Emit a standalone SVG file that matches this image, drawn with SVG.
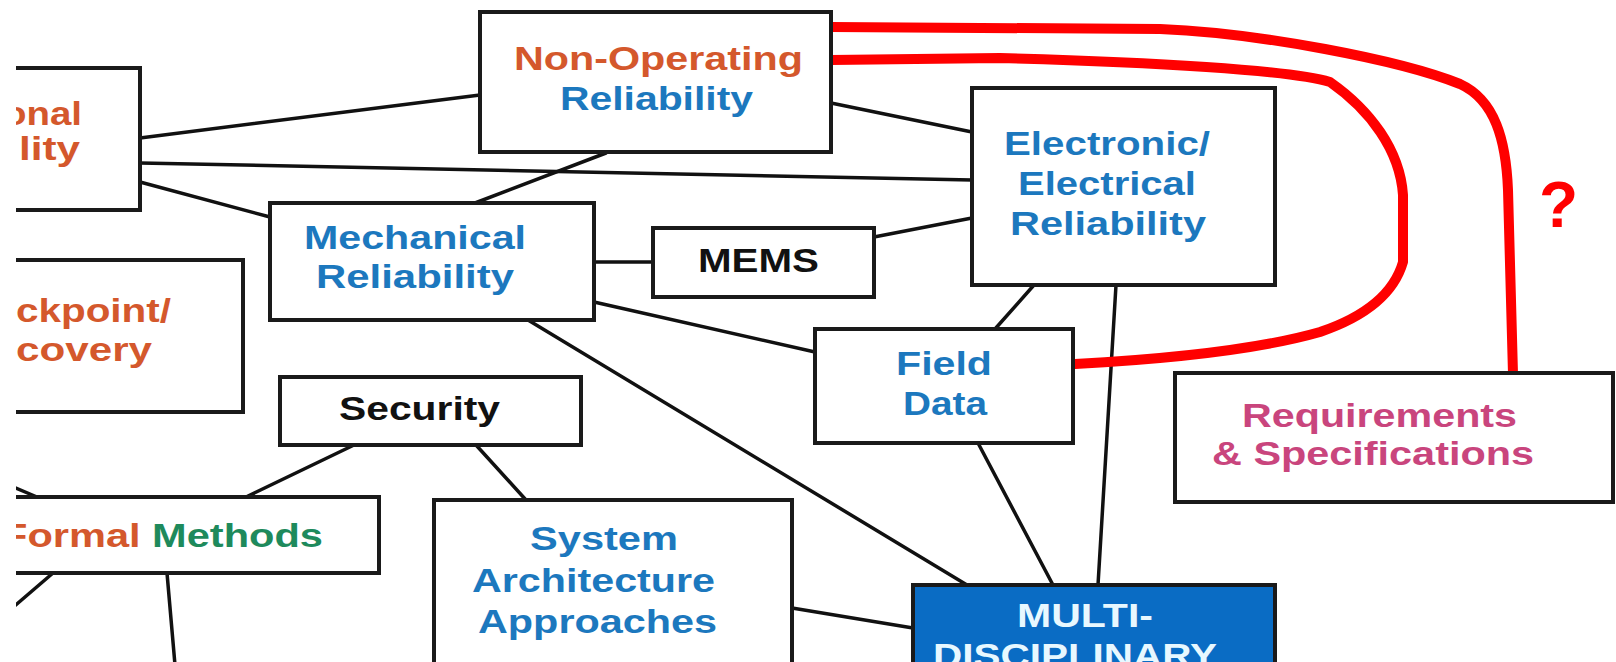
<svg xmlns="http://www.w3.org/2000/svg" width="1616" height="662" viewBox="0 0 1616 662">
<defs>
<clipPath id="frame"><rect x="16" y="0" width="1600" height="662"/></clipPath>
<style>
.box{fill:#fff;stroke:#1a1a1a;stroke-width:4}
.dark{fill:#0a6cc4;stroke:#1a1a1a;stroke-width:4}
.ln{stroke:#111;stroke-width:3.5;fill:none;stroke-linecap:round}
.red{stroke:#ff0000;stroke-width:10;fill:none;stroke-linecap:round;stroke-linejoin:round}
text{font-family:"Liberation Sans",Arial,sans-serif;font-weight:bold;font-size:34px}
.or{fill:#d4582c}
.bl{fill:#1c78be}
.gr{fill:#1e8a5c}
.bk{fill:#111}
.pk{fill:#c9457d}
.wh{fill:#e8f8ff}
.q{fill:#ff0000;font-size:64px}
</style>
</defs>
<rect width="1616" height="662" fill="#fff"/>
<g clip-path="url(#frame)">
<g id="connectors">
<line class="ln" x1="140" y1="138" x2="480" y2="95"/>
<line class="ln" x1="140" y1="163" x2="972" y2="180"/>
<line class="ln" x1="140" y1="182" x2="270" y2="217"/>
<line class="ln" x1="606" y1="153" x2="475" y2="203"/>
<line class="ln" x1="831" y1="103" x2="972" y2="132"/>
<line class="ln" x1="594" y1="262" x2="653" y2="262"/>
<line class="ln" x1="874" y1="237" x2="972" y2="218"/>
<line class="ln" x1="594" y1="302" x2="815" y2="352"/>
<line class="ln" x1="1034" y1="285" x2="995" y2="329"/>
<line class="ln" x1="1116" y1="285" x2="1098" y2="585"/>
<line class="ln" x1="978" y1="443" x2="1053" y2="585"/>
<line class="ln" x1="528" y1="320" x2="967" y2="585"/>
<line class="ln" x1="792" y1="608" x2="913" y2="628"/>
<line class="ln" x1="354" y1="445" x2="246" y2="497"/>
<line class="ln" x1="476" y1="445" x2="526" y2="500"/>
<line class="ln" x1="-10" y1="477" x2="37" y2="497"/>
<line class="ln" x1="53" y1="573" x2="-10" y2="627"/>
<line class="ln" x1="167" y1="573" x2="175" y2="665"/>
<path class="red" d="M831,27 L1160,29 C1260,33 1400,60 1460,84 C1495,100 1506,140 1508,190 L1513,374"/>
<path class="red" d="M831,60 L1000,58 C1150,62 1290,70 1330,82 C1370,110 1400,150 1403,195 L1403,262 C1395,290 1370,315 1320,332 C1250,352 1150,360 1075,364"/>
</g>
<g id="operational">
<rect class="box" x="-10" y="68" width="150" height="142"/>
<text class="or" x="3" y="125" textLength="79" lengthAdjust="spacingAndGlyphs">onal</text>
<text class="or" x="19" y="160" textLength="61" lengthAdjust="spacingAndGlyphs">lity</text>
</g>
<g id="checkpoint">
<rect class="box" x="-10" y="260" width="253" height="152"/>
<text class="or" x="16" y="322" textLength="155" lengthAdjust="spacingAndGlyphs">ckpoint/</text>
<text class="or" x="16" y="361" textLength="136" lengthAdjust="spacingAndGlyphs">covery</text>
</g>
<g id="non-operating">
<rect class="box" x="480" y="12" width="351" height="140"/>
<text class="or" x="514" y="70" textLength="289" lengthAdjust="spacingAndGlyphs">Non-Operating</text>
<text class="bl" x="560" y="110" textLength="193" lengthAdjust="spacingAndGlyphs">Reliability</text>
</g>
<g id="mechanical">
<rect class="box" x="270" y="203" width="324" height="117"/>
<text class="bl" x="304" y="249" textLength="222" lengthAdjust="spacingAndGlyphs">Mechanical</text>
<text class="bl" x="316" y="288" textLength="198" lengthAdjust="spacingAndGlyphs">Reliability</text>
</g>
<g id="mems">
<rect class="box" x="653" y="228" width="221" height="69"/>
<text class="bk" x="698" y="272" textLength="121" lengthAdjust="spacingAndGlyphs">MEMS</text>
</g>
<g id="electronic">
<rect class="box" x="972" y="88" width="303" height="197"/>
<text class="bl" x="1004" y="155" textLength="206" lengthAdjust="spacingAndGlyphs">Electronic/</text>
<text class="bl" x="1018" y="195" textLength="178" lengthAdjust="spacingAndGlyphs">Electrical</text>
<text class="bl" x="1010" y="235" textLength="196" lengthAdjust="spacingAndGlyphs">Reliability</text>
</g>
<g id="field-data">
<rect class="box" x="815" y="329" width="258" height="114"/>
<text class="bl" x="896" y="375" textLength="96" lengthAdjust="spacingAndGlyphs">Field</text>
<text class="bl" x="903" y="415" textLength="84" lengthAdjust="spacingAndGlyphs">Data</text>
</g>
<g id="security">
<rect class="box" x="280" y="377" width="301" height="68"/>
<text class="bk" x="339" y="420" textLength="161" lengthAdjust="spacingAndGlyphs">Security</text>
</g>
<g id="formal-methods">
<rect class="box" x="-10" y="497" width="389" height="76"/>
<text x="2" y="547" textLength="321" lengthAdjust="spacingAndGlyphs"><tspan class="or">Formal </tspan><tspan class="gr">Methods</tspan></text>
</g>
<g id="system-architecture">
<rect class="box" x="434" y="500" width="358" height="200"/>
<text class="bl" x="530" y="550" textLength="148" lengthAdjust="spacingAndGlyphs">System</text>
<text class="bl" x="472" y="592" textLength="243" lengthAdjust="spacingAndGlyphs">Architecture</text>
<text class="bl" x="478" y="633" textLength="239" lengthAdjust="spacingAndGlyphs">Approaches</text>
</g>
<g id="multi-disciplinary">
<rect class="dark" x="913" y="585" width="362" height="120"/>
<text class="wh" x="1017" y="627" textLength="136" lengthAdjust="spacingAndGlyphs">MULTI-</text>
<text class="wh" x="933" y="667" textLength="284" lengthAdjust="spacingAndGlyphs">DISCIPLINARY</text>
</g>
<g id="requirements">
<rect class="box" x="1175" y="373" width="438" height="129"/>
<text class="pk" x="1242" y="427" textLength="275" lengthAdjust="spacingAndGlyphs">Requirements</text>
<text class="pk" x="1212" y="465" textLength="322" lengthAdjust="spacingAndGlyphs">&amp; Specifications</text>
</g>
<g id="question">
<text class="q" x="1539" y="227">?</text>
</g>
</g>
</svg>
